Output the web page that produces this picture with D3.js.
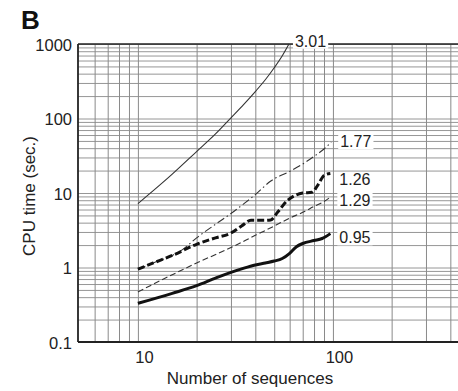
<!DOCTYPE html>
<html>
<head>
<meta charset="utf-8">
<script src="https://cdn.jsdelivr.net/npm/d3@7"></script>
<style>
  html, body { margin: 0; padding: 0; background: #fff; }
  svg { display: block; font-family: "Liberation Sans", Arial, Helvetica, sans-serif; }
</style>
</head>
<body>
<svg id="chart" width="458" height="391"></svg>
<script>
// values (log-log plot)
const xTickLabels = [10, 100];
const yTickLabels = [0.1, 1, 10, 100, 1000];

const s301 = [[10, 7.2], [15, 17.9], [20, 36], [25, 62], [30, 102], [35, 156], [40, 230], [45, 331], [50, 480], [55, 696], [59.5, 1000]];
const s177 = [[10, 0.95], [12, 1.15], [15, 1.45], [17, 1.75], [20, 2.5], [25, 3.8], [30, 5.3], [35, 7.2], [40, 9.5], [48, 14.5], [60, 19.5], [70, 24.5], [80, 31], [90, 39], [98, 48]];
const s126 = [[10, 0.95], [12, 1.15], [15, 1.45], [20, 2.05], [25, 2.5], [30, 2.9], [34, 3.6], [38, 4.3], [44, 4.3], [48, 4.35], [52, 5.5], [58, 7.8], [64, 9.3], [70, 10], [78, 10.2], [84, 13], [90, 17.2], [97, 18.3]];
const s129 = [[10, 0.47], [15, 0.8], [20, 1.15], [30, 1.85], [40, 2.7], [50, 3.6], [60, 4.6], [70, 5.5], [80, 6.6], [90, 7.7], [97, 8.8]];
const s095 = [[10, 0.33], [15, 0.45], [20, 0.57], [25, 0.72], [30, 0.86], [35, 0.98], [40, 1.08], [45, 1.15], [50, 1.22], [55, 1.32], [60, 1.55], [65, 1.9], [70, 2.1], [80, 2.3], [88, 2.45], [97, 2.85]];

const seriesLabels = ["3.01", "1.77", "1.26", "1.29", "0.95"];

const svg = d3.select('#chart');
const mLeft = 78, mTop = 44, mBottom = 342, mRight = 464;

const x = d3.scaleLog().domain([4.93, 470]).range([mLeft, mRight]);
const y = d3.scaleLog().domain([0.1, 1000]).range([mBottom, mTop]);

// grid
const xGrid = [6, 7, 8, 9, 10, 20, 30, 40, 50, 60, 70, 80, 90, 100, 200, 300, 400];
const yGrid = [];
[0.1, 1, 10, 100].forEach(d => { for (let k = 1; k <= 9; k++) yGrid.push(d * k); });
yGrid.push(1000);

const grid = svg.append('g');
grid.append('g')
  .attr('transform', `translate(0,${mBottom})`)
  .call(d3.axisBottom(x).tickValues(xGrid).tickSize(-(mBottom - mTop)).tickFormat(''))
  .call(g => g.select('.domain').remove())
  .call(g => g.selectAll('line').attr('stroke', '#8a8a8a').attr('stroke-width', 1));
grid.append('g')
  .attr('transform', `translate(${mLeft},0)`)
  .call(d3.axisLeft(y).tickValues(yGrid).tickSize(-(mRight - mLeft)).tickFormat(''))
  .call(g => g.select('.domain').remove())
  .call(g => g.selectAll('line').attr('stroke', '#8a8a8a').attr('stroke-width', 0.9));

// frame
svg.append('line').attr('x1', mLeft).attr('x2', mRight).attr('y1', mTop).attr('y2', mTop)
  .attr('stroke', '#222').attr('stroke-width', 1.6);
svg.append('line').attr('x1', mLeft).attr('x2', mRight).attr('y1', mBottom).attr('y2', mBottom)
  .attr('stroke', '#222').attr('stroke-width', 1.8);
svg.append('line').attr('x1', mLeft).attr('x2', mLeft).attr('y1', mTop).attr('y2', mBottom)
  .attr('stroke', '#222').attr('stroke-width', 1.8);

// axes labels
svg.append('g')
  .attr('transform', `translate(${mLeft},0)`)
  .call(d3.axisLeft(y).tickValues(yTickLabels).tickSize(0).tickPadding(6).tickFormat(d => String(d)))
  .call(g => g.select('.domain').remove())
  .call(g => g.selectAll('text').attr('font-size', 16.5).attr('fill', '#222').attr('font-family', null).attr('dy', '0.38em'));

svg.append('g')
  .attr('transform', `translate(0,${mBottom})`)
  .call(d3.axisBottom(x).tickValues(xTickLabels).tickSize(0).tickPadding(9).tickFormat(d => String(d)))
  .call(g => g.select('.domain').remove())
  .call(g => g.selectAll('text').attr('font-size', 16.5).attr('fill', '#222').attr('font-family', null).attr('dx', 6));

svg.append('text').attr('x', 250).attr('y', 384).attr('text-anchor', 'middle')
  .attr('font-size', 17).attr('fill', '#222').text('Number of sequences');
svg.append('text').attr('transform', 'translate(35,196) rotate(-90)').attr('text-anchor', 'middle')
  .attr('font-size', 17).attr('fill', '#222').text('CPU time (sec.)');
svg.append('text').attr('x', 21).attr('y', 29)
  .attr('font-size', 26).attr('font-weight', 'bold').attr('fill', '#111').text('B');

// lines
const line = d3.line().x(d => x(d[0])).y(d => y(d[1])).curve(d3.curveMonotoneX);
const styles = [
  { data: s301, w: 1.1, dash: null, c: '#333' },
  { data: s177, w: 1.1, dash: '8,3,1.5,3', c: '#333' },
  { data: s126, w: 3, dash: '7,3', c: '#111' },
  { data: s129, w: 1.1, dash: '6,3', c: '#333' },
  { data: s095, w: 3, dash: null, c: '#111' }
];
styles.forEach(s => {
  svg.append('path').datum(s.data).attr('d', line)
    .attr('fill', 'none').attr('stroke', s.c).attr('stroke-width', s.w)
    .attr('stroke-dasharray', s.dash).attr('stroke-linejoin', 'round');
});

// end labels with white backing
const labelOffsets = [[6, -3], [9, -1], [9, 6], [9, 3], [9, 4]];
styles.forEach((s, i) => {
  const last = s.data[s.data.length - 1];
  const lx = x(last[0]) + labelOffsets[i][0];
  const ly = y(last[1]) + labelOffsets[i][1];
  const t = svg.append('text').attr('x', lx).attr('y', ly).attr('dy', '0.36em')
    .attr('font-size', 16).attr('fill', '#222').text(seriesLabels[i]);
  const bb = t.node().getBBox();
  svg.insert('rect', () => t.node())
    .attr('x', bb.x - 2).attr('y', bb.y + 1).attr('width', bb.width + 4).attr('height', bb.height - 2)
    .attr('fill', '#fff');
});
</script>
</body>
</html>
